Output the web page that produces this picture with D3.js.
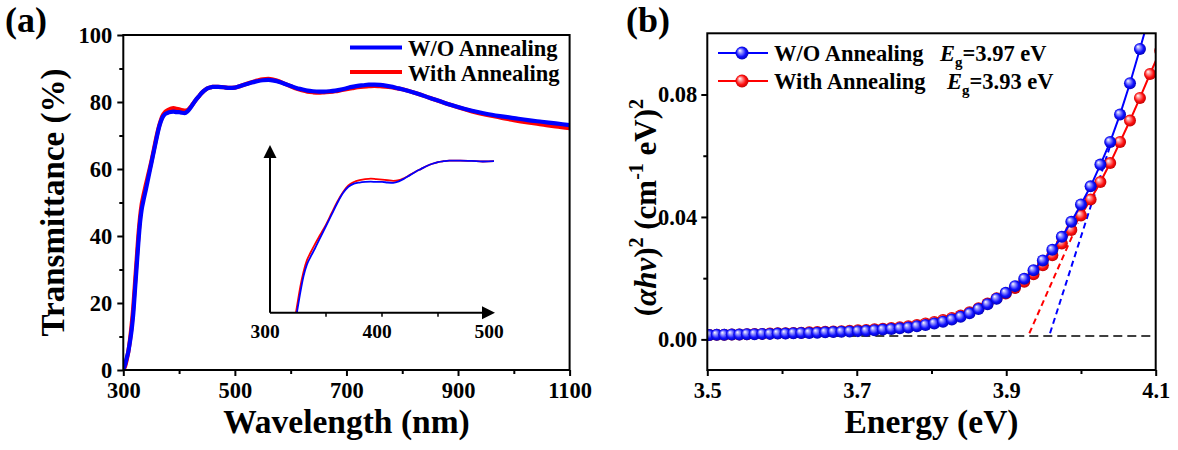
<!DOCTYPE html>
<html>
<head>
<meta charset="utf-8">
<script src="https://cdn.jsdelivr.net/npm/d3@7"></script>
<style>
  body { margin: 0; background: #fff; }
  svg text { font-family: "Liberation Serif", "Times New Roman", serif; font-weight: bold; }
</style>
</head>
<body>
<div id="chart"></div>
<script>
// ---- data: panel (a) transmittance ----
const wavelength = [300,303,306,309,312,315,318,321,324,327,330,333,336,340,345,350,355,360,365,370,375,380,385,390,395,400,405,410,415,420,425,430,435,440,445,450,455,460,470,480,490,500,510,520,530,540,550,560,570,580,590,600,610,620,630,640,650,660,670,680,690,700,710,720,730,740,750,760,770,780,790,800,825,850,875,900,925,950,975,1000,1025,1050,1075,1100];
const transWO = [0.3,1.5,3.5,5.5,8.5,12,17,24,31,38,44,48,50.5,53.5,57.5,61.5,65.5,69.5,73,75.3,76.4,76.8,77,77.1,77,77,76.8,76.7,77.2,78.2,79.4,80.6,81.6,82.6,83.4,84,84.3,84.5,84.5,84.4,84.2,84.3,84.8,85.3,85.8,86.2,86.5,86.6,86.4,86,85.4,84.8,84.2,83.8,83.4,83.2,83.1,83.1,83.2,83.4,83.7,84.1,84.5,84.8,85,85.2,85.2,85.1,84.9,84.6,84.2,83.8,82.6,81.2,79.8,78.5,77.4,76.5,75.8,75.2,74.6,74.1,73.6,73.1];
const transWith = [0,1,3,5.5,9,13.5,19,26,33,40,45.5,49.5,52,55,58.5,62,66,70,73.3,75.8,77,77.6,78,78.2,78,77.8,77.6,77.4,77.6,78.4,79.5,80.6,81.6,82.6,83.4,84,84.3,84.5,84.5,84.4,84.2,84.3,84.8,85.4,85.9,86.4,86.8,86.9,86.6,86.1,85.4,84.7,84,83.5,83.1,82.9,82.8,82.9,83,83.2,83.5,83.8,84.1,84.4,84.6,84.7,84.8,84.7,84.6,84.4,84.1,83.8,82.6,81.2,79.8,78.4,77.2,76.2,75.4,74.6,73.9,73.3,72.7,72.2];
const xTicksA = [300,500,700,900,1100];
const xMinorA = [400,600,800,1000];
const yTicksA = [0,20,40,60,80,100];
const yMinorA = [10,30,50,70,90];
const insetTicks = [300,400,500];
const insetMinor = [350,400,450];

// ---- data: panel (b) Tauc plot ----
const energy = [3.5028,3.5127,3.5227,3.5328,3.5429,3.5530,3.5632,3.5735,3.5838,3.5942,3.6047,3.6152,3.6257,3.6364,3.6471,3.6578,3.6686,3.6795,3.6905,3.7015,3.7126,3.7237,3.7349,3.7462,3.7576,3.7690,3.7805,3.7920,3.8037,3.8154,3.8272,3.8390,3.8509,3.8629,3.8750,3.8871,3.8994,3.9117,3.9241,3.9365,3.9490,3.9617,3.9744,3.9871,4.0000,4.0129,4.0260,4.0391,4.0523,4.0656,4.0789,4.0924,4.1060];
const taucWO = [0.0014,0.0015,0.0015,0.0016,0.0016,0.0017,0.0017,0.0018,0.0018,0.0019,0.0019,0.0020,0.0021,0.0021,0.0022,0.0023,0.0024,0.0025,0.0026,0.0027,0.0028,0.0030,0.0032,0.0034,0.0036,0.0039,0.0043,0.0047,0.0052,0.0058,0.0065,0.0074,0.0085,0.0099,0.0115,0.0133,0.0152,0.0174,0.0198,0.0226,0.0258,0.0293,0.0335,0.0384,0.0441,0.0500,0.0571,0.0645,0.0735,0.0837,0.0949,0.1065,0.1190];
const taucWith = [0.0014,0.0015,0.0015,0.0016,0.0016,0.0017,0.0018,0.0018,0.0019,0.0020,0.0020,0.0021,0.0022,0.0023,0.0024,0.0025,0.0026,0.0027,0.0028,0.0030,0.0031,0.0033,0.0035,0.0037,0.0040,0.0043,0.0047,0.0052,0.0057,0.0063,0.0070,0.0078,0.0089,0.0102,0.0117,0.0134,0.0150,0.0168,0.0188,0.0213,0.0242,0.0275,0.0313,0.0357,0.0405,0.0457,0.0514,0.0576,0.0645,0.0715,0.0789,0.0867,0.0943];
const fitWO = [[3.9586,0.002],[4.040,0.064]];
const fitWith = [[3.9309,0.002],[3.996,0.038]];
const baseLevel = 0.0011;
const xTicksB = [3.5,3.7,3.9,4.1];
const xMinorB = [3.6,3.8,4.0];
const yTicksB = [0,0.04,0.08];
const yMinorB = [0.02,0.06];

const BLUE = "#0000ff", RED = "#ff0000";

const svg = d3.select("#chart").append("svg")
    .attr("width", 1178).attr("height", 450);
svg.append("rect").attr("width", 1178).attr("height", 450).attr("fill", "#fff");

const defs = svg.append("defs");
function sphereGrad(id, light, mid, dark) {
    const g = defs.append("radialGradient").attr("id", id)
        .attr("cx", "50%").attr("cy", "50%").attr("r", "55%")
        .attr("fx", "32%").attr("fy", "30%");
    g.append("stop").attr("offset", "0%").attr("stop-color", "#ffffff");
    g.append("stop").attr("offset", "25%").attr("stop-color", light);
    g.append("stop").attr("offset", "65%").attr("stop-color", mid);
    g.append("stop").attr("offset", "100%").attr("stop-color", dark);
}
sphereGrad("gBlue", "#a0a0ff", "#1010ff", "#0000a8");
sphereGrad("gRed", "#ffa0a0", "#ff1010", "#b00000");

function styleAxis(sel, size) {
    sel.select(".domain").remove();
    sel.selectAll("line").attr("stroke", "#000").attr("stroke-width", 2);
    sel.selectAll("text").attr("font-size", size).attr("fill", "#000")
        .style("font-family", "'Liberation Serif', serif").style("font-weight", "bold");
}

// ================= panel (a) =================
const xA = d3.scaleLinear().domain([300, 1100]).range([123.3, 569.6]);
const yA = d3.scaleLinear().domain([0, 100]).range([370, 35]);

defs.append("clipPath").attr("id", "clipA").append("rect")
    .attr("x", xA(300)).attr("y", yA(100)).attr("width", xA(1100) - xA(300)).attr("height", yA(0) - yA(100));

const ga = svg.append("g");
ga.append("g").attr("transform", `translate(0,${yA(0)})`)
    .call(d3.axisBottom(xA).tickValues(xTicksA).tickSize(6).tickPadding(6).tickFormat(d3.format("d")))
    .call(s => styleAxis(s, 22.5));
ga.append("g").attr("transform", `translate(0,${yA(0)})`)
    .call(d3.axisBottom(xA).tickValues(xMinorA).tickSize(4).tickFormat(""))
    .call(s => styleAxis(s, 22));
ga.append("g").attr("transform", `translate(${xA(300)},0)`)
    .call(d3.axisLeft(yA).tickValues(yTicksA).tickSize(6).tickPadding(5).tickFormat(d3.format("d")))
    .call(s => styleAxis(s, 22.5));
ga.append("g").attr("transform", `translate(${xA(300)},0)`)
    .call(d3.axisLeft(yA).tickValues(yMinorA).tickSize(4).tickFormat(""))
    .call(s => styleAxis(s, 22));

const lineA = d3.line().curve(d3.curveMonotoneX)
    .x((d, i) => xA(wavelength[i])).y(d => yA(d));
const curvesA = ga.append("g").attr("clip-path", "url(#clipA)");
curvesA.append("path").attr("d", lineA(transWith)).attr("fill", "none")
    .attr("stroke", RED).attr("stroke-width", 4.2);
curvesA.append("path").attr("d", lineA(transWO)).attr("fill", "none")
    .attr("stroke", BLUE).attr("stroke-width", 4.2);

ga.append("rect").attr("x", xA(300)).attr("y", yA(100))
    .attr("width", xA(1100) - xA(300)).attr("height", yA(0) - yA(100))
    .attr("fill", "none").attr("stroke", "#000").attr("stroke-width", 2);

// legend (a)
const legA = [["W/O Annealing", BLUE, 47.5], ["With Annealing", RED, 72]];
legA.forEach(([label, col, y]) => {
    ga.append("line").attr("x1", 350).attr("x2", 402).attr("y1", y).attr("y2", y)
        .attr("stroke", col).attr("stroke-width", 4);
    ga.append("text").attr("x", 408).attr("y", y + 8.5).attr("font-size", 22.5).text(label);
});

// inset
const xI = d3.scaleLinear().domain([300, 500]).range([270, 494]);
const yI = d3.scaleLinear().domain([31, 90]).range([312.7, 145]);
defs.append("clipPath").attr("id", "clipI").append("rect")
    .attr("x", xI(300)).attr("y", yI(90)).attr("width", xI(500) - xI(300)).attr("height", yI(31) - yI(90));
const lineI = d3.line().curve(d3.curveMonotoneX)
    .x((d, i) => xI(wavelength[i])).y(d => yI(d));
const curvesI = ga.append("g").attr("clip-path", "url(#clipI)");
curvesI.append("path").attr("d", lineI(transWith)).attr("fill", "none")
    .attr("stroke", RED).attr("stroke-width", 1.8);
curvesI.append("path").attr("d", lineI(transWO)).attr("fill", "none")
    .attr("stroke", BLUE).attr("stroke-width", 1.8);

ga.append("line").attr("x1", xI(300)).attr("x2", xI(300)).attr("y1", yI(31)).attr("y2", yI(90) + 10)
    .attr("stroke", "#000").attr("stroke-width", 2);
ga.append("line").attr("x1", xI(300)).attr("x2", xI(500) - 10).attr("y1", yI(31)).attr("y2", yI(31))
    .attr("stroke", "#000").attr("stroke-width", 2);
ga.append("path")
    .attr("d", `M${xI(300)},${yI(90)} l-6.5,13 l13,0 z`).attr("fill", "#000");
ga.append("path")
    .attr("d", `M${xI(500) + 1},${yI(31)} l-13,-6.5 l0,13 z`).attr("fill", "#000");
ga.selectAll(".itick").data(insetMinor).join("line")
    .attr("x1", d => xI(d)).attr("x2", d => xI(d))
    .attr("y1", yI(31)).attr("y2", yI(31) + 4)
    .attr("stroke", "#000").attr("stroke-width", 1.5);
ga.selectAll(".ilab").data(insetTicks).join("text")
    .attr("x", d => xI(d) - 5).attr("y", 338)
    .attr("text-anchor", "middle").attr("font-size", 19.5).text(d => d);

// titles (a)
ga.append("text").attr("x", 5).attr("y", 32).attr("font-size", 36).text("(a)");
ga.append("text").attr("x", (xA(300) + xA(1100)) / 2).attr("y", 433)
    .attr("text-anchor", "middle").attr("font-size", 33.5).text("Wavelength (nm)");
ga.append("text").attr("transform", `translate(64,${(yA(0) + yA(100)) / 2}) rotate(-90)`)
    .attr("text-anchor", "middle").attr("font-size", 33).text("Transmittance (%)");

// ================= panel (b) =================
const xB = d3.scaleLinear().domain([3.5, 4.1]).range([707.3, 1155.7]);
const yB = d3.scaleLinear().domain([-0.01, 0.1]).range([370, 33.3]);

defs.append("clipPath").attr("id", "clipB").append("rect")
    .attr("x", xB(3.5)).attr("y", yB(0.1)).attr("width", xB(4.1) - xB(3.5)).attr("height", yB(-0.01) - yB(0.1));

const gb = svg.append("g");
gb.append("g").attr("transform", `translate(0,${yB(-0.01)})`)
    .call(d3.axisBottom(xB).tickValues(xTicksB).tickSize(6).tickPadding(6).tickFormat(d3.format(".1f")))
    .call(s => styleAxis(s, 22.5));
gb.append("g").attr("transform", `translate(0,${yB(-0.01)})`)
    .call(d3.axisBottom(xB).tickValues(xMinorB).tickSize(4).tickFormat(""))
    .call(s => styleAxis(s, 22));
gb.append("g").attr("transform", `translate(${xB(3.5)},0)`)
    .call(d3.axisLeft(yB).tickValues(yTicksB).tickSize(6).tickPadding(4).tickFormat(d3.format(".2f")))
    .call(s => styleAxis(s, 22.5));
gb.append("g").attr("transform", `translate(${xB(3.5)},0)`)
    .call(d3.axisLeft(yB).tickValues(yMinorB).tickSize(4).tickFormat(""))
    .call(s => styleAxis(s, 22));

const plotB = gb.append("g").attr("clip-path", "url(#clipB)");
plotB.append("line").attr("x1", xB(3.5)).attr("x2", xB(4.1))
    .attr("y1", yB(baseLevel)).attr("y2", yB(baseLevel))
    .attr("stroke", "#000").attr("stroke-width", 1.6).attr("stroke-dasharray", "9,5");

const lineB = d3.line().x((d, i) => xB(energy[i])).y(d => yB(d));
const fitLine = d3.line().x(d => xB(d[0])).y(d => yB(d[1]));

plotB.append("path").attr("d", fitLine(fitWith)).attr("fill", "none")
    .attr("stroke", RED).attr("stroke-width", 2).attr("stroke-dasharray", "6,4");
plotB.append("path").attr("d", fitLine(fitWO)).attr("fill", "none")
    .attr("stroke", BLUE).attr("stroke-width", 2).attr("stroke-dasharray", "6,4");

plotB.append("path").attr("d", lineB(taucWith)).attr("fill", "none")
    .attr("stroke", RED).attr("stroke-width", 2);
plotB.selectAll(".pr").data(taucWith).join("circle")
    .attr("cx", (d, i) => xB(energy[i])).attr("cy", d => yB(d)).attr("r", 6)
    .attr("fill", "url(#gRed)");
plotB.append("path").attr("d", lineB(taucWO)).attr("fill", "none")
    .attr("stroke", BLUE).attr("stroke-width", 2);
plotB.selectAll(".pb").data(taucWO).join("circle")
    .attr("cx", (d, i) => xB(energy[i])).attr("cy", d => yB(d)).attr("r", 6)
    .attr("fill", "url(#gBlue)");

gb.append("rect").attr("x", xB(3.5)).attr("y", yB(0.1))
    .attr("width", xB(4.1) - xB(3.5)).attr("height", yB(-0.01) - yB(0.1))
    .attr("fill", "none").attr("stroke", "#000").attr("stroke-width", 2);

// legend (b)
const legB = [["W/O Annealing", "3.97", BLUE, "url(#gBlue)", 53, 940],
              ["With Annealing", "3.93", RED, "url(#gRed)", 81, 947]];
legB.forEach(([label, eg, col, fill, y, ex]) => {
    gb.append("line").attr("x1", 718).attr("x2", 768).attr("y1", y).attr("y2", y)
        .attr("stroke", col).attr("stroke-width", 2);
    gb.append("circle").attr("cx", 742).attr("cy", y).attr("r", 6.5).attr("fill", fill);
    gb.append("text").attr("x", 774).attr("y", y + 7.5).attr("font-size", 22.5).text(label);
    const t = gb.append("text").attr("x", ex).attr("y", y + 7.5).attr("font-size", 22.5);
    t.append("tspan").attr("font-style", "italic").text("E");
    t.append("tspan").attr("font-size", 15).attr("dy", 6).text("g");
    t.append("tspan").attr("dy", -6).text("=" + eg + " eV");
});

// titles (b)
gb.append("text").attr("x", 626).attr("y", 32).attr("font-size", 36).text("(b)");
gb.append("text").attr("x", (xB(3.5) + xB(4.1)) / 2).attr("y", 433)
    .attr("text-anchor", "middle").attr("font-size", 33.5).text("Energy (eV)");
const yt = gb.append("text").attr("transform", `translate(656,${(yB(-0.01) + yB(0.1)) / 2 + 6}) rotate(-90)`)
    .attr("text-anchor", "middle").attr("font-size", 31);
yt.append("tspan").text("(");
yt.append("tspan").attr("font-style", "italic").text("αhν");
yt.append("tspan").text(")");
yt.append("tspan").attr("font-size", 20).attr("dy", -13).text("2");
yt.append("tspan").attr("dy", 13).text(" (cm");
yt.append("tspan").attr("font-size", 20).attr("dy", -13).text("-1");
yt.append("tspan").attr("dy", 13).text(" eV)");
yt.append("tspan").attr("font-size", 20).attr("dy", -13).text("2");
</script>
</body>
</html>
